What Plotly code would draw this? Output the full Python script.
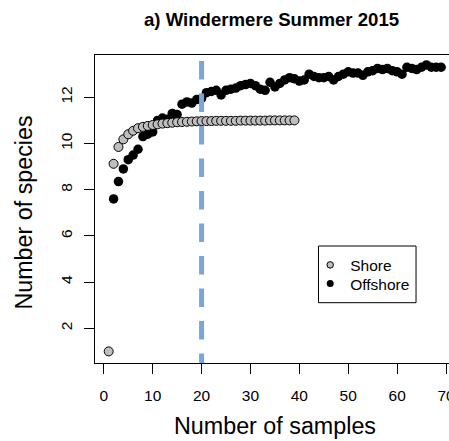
import plotly.graph_objects as go

# ---- data ----
shore_x = list(range(1, 40))
shore_y = [1.0, 9.12, 9.85, 10.18, 10.4, 10.55, 10.66, 10.72, 10.76, 10.8,
           10.83, 10.86, 10.88, 10.9, 10.92, 10.93, 10.94, 10.95, 10.96, 10.97,
           10.97, 10.97, 10.98, 10.98, 10.98, 10.98, 10.98, 10.99, 10.99, 10.99,
           10.99, 10.99, 10.99, 11.0, 11.0, 11.0, 11.0, 11.0, 11.0]

offshore_x = list(range(2, 70))
offshore_y = [7.6, 8.35, 8.9, 9.3, 9.5, 9.75, 10.3, 10.4, 10.5, 11.0,
              11.1, 11.05, 11.3, 11.25, 11.7, 11.8, 11.75, 11.9, 11.95, 12.2,
              12.25, 12.3, 12.1, 12.3, 12.35, 12.4, 12.5, 12.55, 12.6, 12.5,
              12.35, 12.3, 12.65, 12.45, 12.6, 12.75, 12.85, 12.8, 12.7, 12.75,
              13.0, 12.9, 12.85, 12.85, 12.9, 12.75, 12.9, 13.0, 13.1, 13.05,
              13.05, 12.95, 13.1, 13.15, 13.25, 13.2, 13.25, 13.15, 13.1, 13.0,
              13.3, 13.25, 13.2, 13.3, 13.4, 13.3, 13.3, 13.3]

x_ticks = [0, 10, 20, 30, 40, 50, 60, 70]
y_ticks = [2, 4, 6, 8, 10, 12]
cutoff = 20

FONT = "Liberation Sans, Arial, Helvetica, sans-serif"
SHORE_FILL = "#BEBEBE"

# pixel helpers for paper placement of decorations
L, R, T, B = 94.5, 449.0, 55.0, 363.0
def px(xp):
    return (xp - L) / (R - L)
def py(yp):
    return (B - yp) / (B - T)

fig = go.Figure()
fig.add_trace(go.Scatter(
    x=offshore_x, y=offshore_y, mode="markers", name="Offshore", showlegend=False,
    marker=dict(size=9.5, color="black", line=dict(width=0)),
))
fig.add_trace(go.Scatter(
    x=shore_x, y=shore_y, mode="markers", name="Shore", showlegend=False,
    marker=dict(size=9, color=SHORE_FILL, line=dict(width=1, color="black")),
))
# legend-only entries (no data), smaller symbols as in the reference legend
fig.add_trace(go.Scatter(
    x=[None], y=[None], mode="markers", name="Shore", legend="legend",
    marker=dict(size=6.5, color=SHORE_FILL, line=dict(width=1, color="black")),
))
fig.add_trace(go.Scatter(
    x=[None], y=[None], mode="markers", name="Offshore", legend="legend2",
    marker=dict(size=7, color="black", line=dict(width=0)),
))

fig.add_shape(type="line", xref="x", yref="y", x0=cutoff, x1=cutoff,
              y0=14.98, y1=0.0, layer="above",
              line=dict(color="rgb(120,166,218)", width=5, dash="18.5px,14px"))

# legend frame
fig.add_shape(type="rect", xref="paper", yref="paper",
              x0=px(318.3), x1=px(416), y0=py(302.7), y1=py(246),
              line=dict(color="black", width=1), fillcolor="white", layer="below")

leg_common = dict(xanchor="left", yanchor="middle", bgcolor="rgba(0,0,0,0)",
                  borderwidth=0, itemsizing="trace", font=dict(size=15.5))

fig.update_layout(
    width=449, height=441,
    margin=dict(l=94.5, r=0, t=55, b=78, pad=0, autoexpand=False),
    paper_bgcolor="white", plot_bgcolor="rgba(0,0,0,0)",
    font=dict(family=FONT, size=15.5, color="black"),
    showlegend=True,
    legend=dict(x=px(310), y=py(265.3), **leg_common),
    legend2=dict(x=px(310), y=py(284), **leg_common),
    xaxis=dict(range=[-1.8, 70.61], tickvals=x_ticks, ticks="outside", ticklen=10,
               tickcolor="black", showline=True, linecolor="black", linewidth=1,
               mirror=True, showgrid=False, zeroline=False, ticklabelstandoff=8,
               ticklabeloverflow="allow", automargin=False),
    yaxis=dict(range=[0.498, 13.83], tickvals=y_ticks, ticks="outside", ticklen=10,
               tickcolor="black", showline=True, linecolor="black", linewidth=1,
               mirror=False, showgrid=False, zeroline=False, tickangle=-90,
               ticklabelstandoff=6, automargin=False),
    annotations=[
        dict(text="<b>a) Windermere Summer 2015</b>", xref="paper", yref="paper",
             x=px(271.5), y=py(19), xanchor="center", yanchor="middle",
             showarrow=False, font=dict(size=18.6)),
        dict(text="Number of samples", xref="paper", yref="paper",
             x=px(275), y=py(425.5), xanchor="center", yanchor="middle",
             showarrow=False, font=dict(size=23.3)),
        dict(text="Number of species", xref="paper", yref="paper", textangle=-90,
             x=px(23), y=py(213), xanchor="center", yanchor="middle",
             showarrow=False, font=dict(size=23.3)),
    ],
)

fig.write_html("out.html")
